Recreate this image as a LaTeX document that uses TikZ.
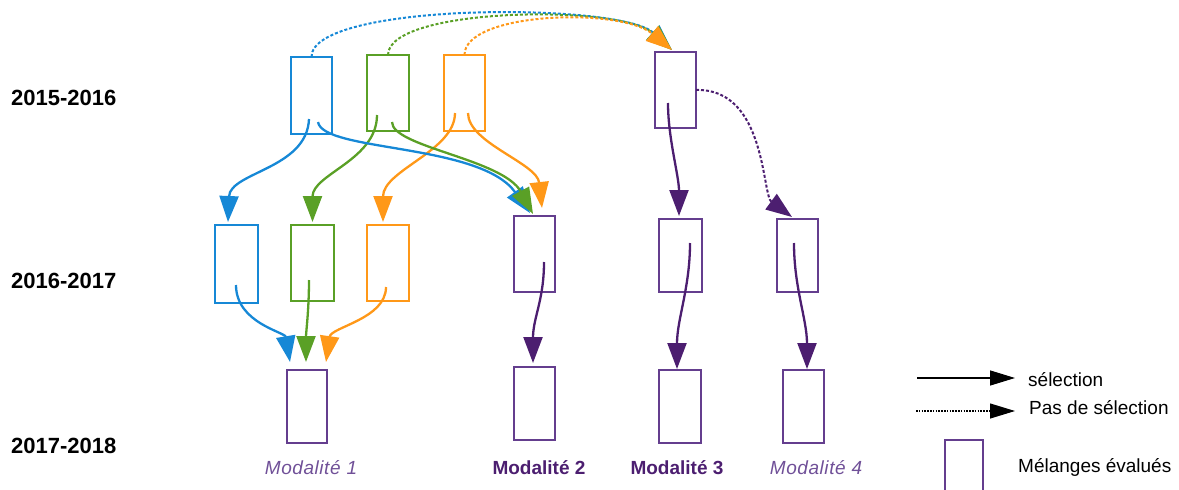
\documentclass[tikz,border=0pt]{standalone}
\usepackage{fontspec}
\setmainfont{Liberation Sans}
\newfontfamily\spacedfont[LetterSpace=3]{Liberation Sans}
\usetikzlibrary{arrows.meta}
\definecolor{cblue}{RGB}{22,136,214}
\definecolor{cgreen}{RGB}{90,160,38}
\definecolor{corange}{RGB}{255,152,24}
\definecolor{cpurple}{RGB}{100,62,142}
\definecolor{cdark}{RGB}{76,30,112}
\definecolor{clabel}{RGB}{112,80,152}
\tikzset{
  box/.style={draw, rectangle, inner sep=0pt, outer sep=0pt, minimum width=41pt, minimum height=76pt, line width=1.5pt},
  arr/.style={line width=2.3pt, -{Triangle[length=26pt,width=19pt]}},
  dots/.style={line width=2pt, dash pattern=on 3pt off 2pt, -{Triangle[length=26pt,width=19pt]}},
  year/.style={anchor=west, inner sep=0pt, font=\bfseries\fontsize{22}{22}\selectfont},
  modit/.style={anchor=base, inner sep=0pt, text=clabel, font=\spacedfont\itshape\fontsize{19}{19}\selectfont},
  modbf/.style={anchor=base, inner sep=0pt, text=cdark, font=\bfseries\fontsize{19}{19}\selectfont},
  legtext/.style={anchor=base west, inner sep=0pt, font=\fontsize{19}{19}\selectfont}
}
\begin{document}
\begin{tikzpicture}[x=1pt,y=-1pt]
\useasboundingbox (0,0) rectangle (1179,490);
% year labels
\node[year] (y1) at (11,98) {2015-2016};
\node[year] (y2) at (11,281) {2016-2017};
\node[year] (y3) at (11,446) {2017-2018};
% row 1
\node[box, draw=cblue, minimum width=41pt, minimum height=77pt] (b1) at (311.5,95.5) {};
\node[box, draw=cgreen, minimum width=42pt] (g1) at (388,93) {};
\node[box, draw=corange] (o1) at (464.5,93) {};
\node[box, draw=cpurple, line width=1.7pt] (p1) at (675.5,90) {};
% row 2
\node[box, draw=cblue, minimum width=43pt, minimum height=78pt] (b2) at (236.5,264) {};
\node[box, draw=cgreen, minimum width=43pt] (g2) at (312.5,263) {};
\node[box, draw=corange, minimum width=42pt] (o2) at (388,263) {};
\node[box, draw=cpurple, line width=2.4pt] (m2a) at (534.5,254) {};
\node[box, draw=cpurple, line width=2.2pt, minimum width=43pt, minimum height=73pt] (m3a) at (680.5,255.5) {};
\node[box, draw=cpurple, line width=1.6pt, minimum height=73pt] (m4a) at (797.5,255.5) {};
% row 3
\node[box, draw=cpurple, line width=2.4pt, minimum width=40pt, minimum height=73pt] (m1b) at (307,406.5) {};
\node[box, draw=cpurple, line width=2.4pt, minimum height=73pt] (m2b) at (534.5,403.5) {};
\node[box, draw=cpurple, line width=2.4pt, minimum width=42pt, minimum height=73pt] (m3b) at (680,406.5) {};
\node[box, draw=cpurple, line width=2.4pt, minimum height=73pt] (m4b) at (803.5,406.5) {};
% labels
\node[modit] (l1) at (311,474) {Modalité 1};
\node[modbf] (l2) at (539,474) {Modalité 2};
\node[modbf] (l3) at (677,474) {Modalité 3};
\node[modit] (l4) at (816,474) {Modalité 4};
% top dotted arcs
\draw[dots, cblue] (b1.north) .. controls (311,2) and (620,2) .. ([shift={(-3.5,-2)}]p1.north);
\draw[dots, cgreen] (g1.north) .. controls (388,7) and (620,4) .. ([shift={(-3.5,-2)}]p1.north);
\draw[dots, corange] (o1.north) .. controls (464.5,12) and (620,7) .. ([shift={(-3.5,-2)}]p1.north);
% row1 -> row2
\draw[arr, cblue] ([shift={(-2.5,-15)}]b1.south) .. controls +(-2,50) and +(2,-50) .. ([shift={(-8.5,-3)}]b2.north);
\draw[arr, cgreen] ([shift={(-11,-16)}]g1.south) .. controls +(0,45) and +(0,-48) .. ([shift={(0,-3)}]g2.north);
\draw[arr, corange] ([shift={(-9.5,-18)}]o1.south) .. controls +(0,38) and +(0,-52) .. ([shift={(-5,-3)}]o2.north);
\draw[arr, cblue] ([shift={(6.5,-12)}]b1.south) .. controls +(5,30) and +(-50,-70) .. ([shift={(-4.5,-3)}]m2a.north);
\draw[arr, cgreen] ([shift={(4,-9)}]g1.south) .. controls +(0,25) and +(-30,-55) .. ([shift={(-1.5,-2)}]m2a.north);
\draw[arr, corange] ([shift={(3.5,-18)}]o1.south) .. controls +(0,30) and +(-5,-45) .. ([shift={(7.5,-8)}]m2a.north);
\draw[arr, cdark] ([shift={(-7.5,-25)}]p1.south) .. controls +(0,35) and +(0,-40) .. ([shift={(-1.5,-3)}]m3a.north);
\draw[dots, cdark] (p1.east) .. controls +(70,-2) and +(-30,-22) .. ([shift={(-5.5,-2)}]m4a.north);
% row2 -> row3
\draw[arr, cblue] ([shift={(-0.5,-18)}]b2.south) .. controls +(0,38) and +(-5,-30) .. ([shift={(-17,-8)}]m1b.north);
\draw[arr, cgreen] ([shift={(-3.5,-21)}]g2.south) .. controls +(0,30) and +(0,-30) .. ([shift={(-1,-8)}]m1b.north);
\draw[arr, corange] ([shift={(-2,-14)}]o2.south) .. controls +(0,32) and +(5,-35) .. ([shift={(19,-8)}]m1b.north);
\draw[arr, cdark] ([shift={(9.5,-30)}]m2a.south) .. controls +(0,38) and +(0,-45) .. ([shift={(-1.5,-4)}]m2b.north);
\draw[arr, cdark] ([shift={(9.5,-49)}]m3a.south) .. controls +(0,45) and +(0,-50) .. ([shift={(-3,-1)}]m3b.north);
\draw[arr, cdark] ([shift={(-3.5,-49)}]m4a.south) .. controls +(0,45) and +(0,-50) .. ([shift={(3.5,-1)}]m4b.north);
% legend
\coordinate (ls0) at (917,378);
\coordinate (ls1) at (1015,378);
\coordinate (ld0) at (916,411);
\coordinate (ld1) at (1015,411);
\draw[line width=1.3pt, -{Triangle[length=25pt,width=15pt]}] (ls0) -- (ls1);
\draw[line width=1.1pt, dash pattern=on 1.6pt off 1.2pt, -{Triangle[length=25pt,width=15pt]}] (ld0) -- (ld1);
\node[legtext] (t1) at (1028,386) {sélection};
\node[legtext] (t2) at (1029,414) {Pas de sélection};
\node[box, draw=cpurple, line width=2pt, minimum width=38pt, minimum height=62pt] (lb) at (964,471) {};
\node[legtext] (t3) at (1018,472) {Mélanges évalués};
\end{tikzpicture}
\end{document}
